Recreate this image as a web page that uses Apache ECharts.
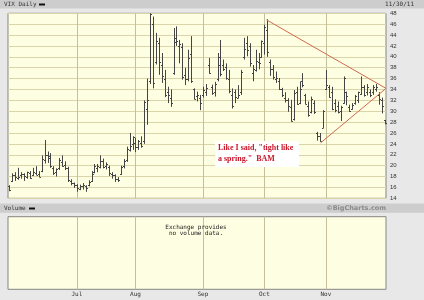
<!DOCTYPE html>
<html><head><meta charset="utf-8">
<script src="https://cdn.jsdelivr.net/npm/echarts@6.0.0/dist/echarts.min.js"></script>
<style>html,body{margin:0;padding:0;background:#e8e8e8}#c{width:424px;height:300px}</style>
</head><body><div id="c"></div>
<script>
// trading days (categories)
const dates = ['5/31',
'6/1','6/2','6/3','6/6','6/7','6/8','6/9','6/10','6/13','6/14','6/15','6/16','6/17','6/20','6/21','6/22','6/23','6/24','6/27','6/28','6/29','6/30',
'7/1','7/5','7/6','7/7','7/8','7/11','7/12','7/13','7/14','7/15','7/18','7/19','7/20','7/21','7/22','7/25','7/26','7/27','7/28','7/29',
'8/1','8/2','8/3','8/4','8/5','8/8','8/9','8/10','8/11','8/12','8/15','8/16','8/17','8/18','8/19','8/22','8/23','8/24','8/25','8/26','8/29','8/30','8/31',
'9/1','9/2','9/6','9/7','9/8','9/9','9/12','9/13','9/14','9/15','9/16','9/19','9/20','9/21','9/22','9/23','9/26','9/27','9/28','9/29','9/30',
'10/3','10/4','10/5','10/6','10/7','10/10','10/11','10/12','10/13','10/14','10/17','10/18','10/19','10/20','10/21','10/24','10/25','10/26','10/27','10/28','10/31',
'11/1','11/2','11/3','11/4','11/7','11/8','11/9','11/10','11/11','11/14','11/15','11/16','11/17','11/18','11/21','11/22','11/23','11/25','11/28','11/29','11/30'];

const open = [16.2,17.2,18.3,17.8,18.2,18.4,17.9,18.6,18.2,18.6,18.5,
19.0,21.0,22.0,21.8,19.5,18.8,19.6,20.6,20.2,19.5,17.2,16.8,
16.5,15.8,16.2,16.3,16.4,17.2,18.8,19.5,19.8,20.8,20.0,19.8,18.4,18.3,17.5,18.5,19.9,21.0,22.8,24.0,
24.2,23.5,24.2,24.5,30.5,35.5,46.0,39.0,42.5,38.5,36.0,33.5,32.5,37.0,43.5,42.0,41.8,36.6,36.0,40.5,34.0,32.8,32.5,
32.9,33.5,38.5,34.5,33.5,36.0,40.0,38.5,38.2,36.0,33.0,33.5,32.5,33.5,40.0,42.5,42.0,37.0,37.5,39.0,40.0,
42.5,45.0,39.0,37.8,36.0,35.5,34.0,32.5,32.0,30.8,28.5,33.5,31.5,35.5,33.0,31.0,29.8,31.5,26.0,25.5,27.0,
34.0,34.5,33.5,31.5,31.0,30.0,31.5,33.5,30.8,30.4,31.5,32.0,33.2,34.5,33.5,33.5,33.5,34.0,33.0,32.0,28.3];

const high = [16.4,18.6,18.8,19.6,18.8,18.6,18.9,19.0,19.6,19.9,19.0,
21.9,24.7,22.6,22.3,19.9,19.5,21.4,21.9,20.8,19.8,17.5,16.9,
16.6,16.5,16.8,16.4,17.3,19.0,20.3,20.3,21.9,21.3,20.6,20.0,18.8,18.4,17.9,20.0,21.2,23.5,26.0,25.4,
25.1,24.7,25.4,32.0,36.0,48.0,47.4,44.4,43.5,40.7,37.6,34.5,34.0,45.3,45.6,43.1,42.5,38.0,41.3,43.8,34.2,33.6,33.0,
34.5,35.0,39.8,34.9,35.4,40.7,43.1,39.5,38.8,37.6,34.2,34.0,34.8,37.6,43.5,43.8,42.5,38.5,41.3,40.7,43.0,
45.9,46.9,39.5,38.5,37.3,36.1,34.3,33.5,32.4,32.1,33.9,34.5,35.5,37.0,33.2,31.8,32.7,32.0,26.2,26.0,30.2,
37.6,34.8,34.5,32.2,31.8,31.0,36.4,33.6,31.2,31.5,33.0,33.6,36.4,34.8,35.0,34.0,34.8,35.0,33.5,32.5,28.4];

const low = [15.3,17.0,17.2,17.4,17.6,17.2,17.6,17.6,18.1,18.3,17.9,
18.8,20.4,20.5,19.6,18.3,18.0,19.2,19.8,19.2,17.0,16.4,15.9,
15.2,15.5,15.6,15.2,16.2,17.0,18.6,18.8,19.5,19.5,19.3,18.1,17.6,17.0,17.0,18.3,19.5,20.7,22.6,22.9,
22.5,22.9,23.3,24.0,27.5,35.0,34.2,38.6,36.7,35.2,32.6,31.5,30.8,36.7,42.0,38.8,35.8,34.8,35.5,35.2,32.2,31.8,30.2,
32.5,32.8,36.9,33.0,32.7,35.5,36.4,37.4,35.8,33.3,30.5,31.5,32.4,33.0,39.5,40.1,38.2,35.5,37.3,37.7,39.8,
40.4,40.0,36.5,35.8,35.2,33.9,32.6,31.6,29.9,28.1,28.3,31.2,31.3,34.4,31.3,29.0,29.6,29.5,24.6,24.4,26.9,
33.9,32.5,30.2,29.8,29.6,28.2,31.4,31.1,29.9,30.3,31.2,31.5,33.0,32.7,32.9,32.6,33.0,33.6,31.2,29.6,27.6];

const close = [15.5,18.3,17.9,18.0,18.5,18.1,18.8,17.8,18.9,18.3,17.9,
21.3,21.9,21.4,20.0,18.6,19.3,21.1,20.0,19.6,17.3,16.9,16.5,
15.9,16.3,16.4,15.9,17.0,18.4,19.9,19.9,20.8,19.8,20.3,18.6,18.3,17.5,17.4,19.8,20.8,23.0,23.7,25.2,
23.4,24.5,23.6,31.7,32.0,47.8,35.1,43.0,39.0,36.4,33.0,32.9,31.6,42.7,43.0,42.4,36.3,35.9,39.8,35.6,32.3,32.9,31.6,
33.9,34.2,37.0,33.4,35.0,38.5,36.9,37.8,36.2,33.8,31.0,32.7,32.9,37.3,41.4,41.3,38.8,37.8,39.3,38.8,42.9,
45.4,40.8,37.8,36.3,36.2,34.0,32.9,32.0,31.0,28.2,33.4,31.3,34.0,34.9,31.3,29.3,32.2,29.8,25.5,24.5,30.0,
34.8,32.7,30.5,30.2,29.9,30.8,36.2,32.8,30.0,31.1,32.8,33.5,34.5,32.9,34.5,33.0,34.5,34.5,32.3,31.0,27.8];

// x-axis tick labels
const monthStarts = ['7/1','8/1','9/1','10/3','11/1'];
const monthLabels = ['Jul','Aug','Sep','Oct','Nov'];
// y-axis tick range
const yMin = 14, yMax = 48, yStep = 2;
// hand-drawn triangle (x in trading-day index, y in price)
const trendX = [87.7, 128.5, 106.2];
const trendY = [46.8, 34.2, 24.2];

const ohlcData = dates.map((d, i) => [i, open[i], high[i], low[i], close[i]]);
const isMonthStart = (idx, val) => monthStarts.indexOf(val) >= 0;

const bg = '#fefee2', hGrid = '#d9d5a8', vGrid = '#c4c09c', barColor = '#454545';
const mono = 'DejaVu Sans Mono';

const chart = echarts.init(document.getElementById('c'), null, {renderer: 'canvas'});
chart.setOption({
  animation: false,
  backgroundColor: '#e8e8e8',
  grid: [
    {left: 8, top: 13.3, width: 378, height: 185, show: true, backgroundColor: bg, borderColor: '#858585', borderWidth: 1, containLabel: false},
    {left: 8, top: 216.7, width: 378, height: 72.6, show: true, backgroundColor: bg, borderColor: '#858585', borderWidth: 1, containLabel: false}
  ],
  xAxis: [
    {type: 'category', gridIndex: 0, data: dates, boundaryGap: true,
     axisLine: {show: false}, axisTick: {show: false}, axisLabel: {show: false},
     splitLine: {show: true, interval: isMonthStart, alignWithLabel: true, lineStyle: {color: vGrid, width: 1}}},
    {type: 'value', gridIndex: 0, min: -0.5, max: 128.5, show: false},
    {type: 'category', gridIndex: 1, data: dates, boundaryGap: true,
     axisLine: {show: false}, axisTick: {show: false},
     axisLabel: {show: true, interval: isMonthStart, margin: 2, fontSize: 6, fontFamily: mono, color: '#333',
       formatter: v => monthLabels[monthStarts.indexOf(v)] || ''},
     splitLine: {show: true, interval: isMonthStart, alignWithLabel: true, lineStyle: {color: vGrid, width: 1}}}
  ],
  yAxis: [
    {type: 'value', gridIndex: 0, position: 'right', min: yMin, max: yMax, interval: yStep,
     axisLine: {show: false}, axisTick: {show: false},
     axisLabel: {margin: 4, fontSize: 6, fontFamily: 'Liberation Sans', color: '#333'},
     splitLine: {show: true, lineStyle: {color: hGrid, width: 1}}},
    {type: 'value', gridIndex: 1, min: 0, max: 1, show: false}
  ],
  series: [
    {type: 'custom', xAxisIndex: 0, yAxisIndex: 0, data: ohlcData, encode: {x: 0, y: [1, 2, 3, 4]},
     z: 2, silent: true,
     renderItem: function (params, api) {
       const x = api.value(0);
       const o = api.coord([x, api.value(1)]);
       const h = api.coord([x, api.value(2)]);
       const l = api.coord([x, api.value(3)]);
       const c = api.coord([x, api.value(4)]);
       const cx = Math.round(h[0]) + 0.5;
       const st = {stroke: barColor, lineWidth: 1};
       return {type: 'group', children: [
         {type: 'line', shape: {x1: cx, y1: h[1], x2: cx, y2: l[1]}, style: st},
         {type: 'line', shape: {x1: cx - 1.5, y1: Math.round(o[1]) + 0.5, x2: cx, y2: Math.round(o[1]) + 0.5}, style: st},
         {type: 'line', shape: {x1: cx, y1: Math.round(c[1]) + 0.5, x2: cx + 1.5, y2: Math.round(c[1]) + 0.5}, style: st}
       ]};
     }},
    {type: 'line', xAxisIndex: 1, yAxisIndex: 0, data: trendX.map((x, i) => [x, trendY[i]]),
     symbol: 'none', silent: true, z: 3, lineStyle: {color: '#cf6a4f', width: 1}}
  ],
  graphic: [
    {type: 'rect', shape: {x: 0, y: 0, width: 424, height: 8.5}, style: {fill: '#cdcdcd'}, silent: true},
    {type: 'text', x: 4, y: 4.5, style: {text: 'VIX Daily', font: '6px "DejaVu Sans Mono"', fill: '#333', verticalAlign: 'middle'}},
    {type: 'rect', shape: {x: 39, y: 3.5, width: 6, height: 2}, style: {fill: '#111'}},
    {type: 'text', x: 414, y: 4.5, style: {text: '11/30/11', font: '6px "DejaVu Sans Mono"', fill: '#333', align: 'right', verticalAlign: 'middle'}},
    {type: 'rect', shape: {x: 0, y: 203.5, width: 424, height: 9.2}, style: {fill: '#cdcdcd'}, silent: true},
    {type: 'text', x: 4, y: 208.3, style: {text: 'Volume', font: '6px "DejaVu Sans Mono"', fill: '#333', verticalAlign: 'middle'}},
    {type: 'rect', shape: {x: 29, y: 207.5, width: 6, height: 2}, style: {fill: '#111'}},
    {type: 'text', x: 386, y: 208.3, style: {text: '©BigCharts.com', font: 'bold 6.5px "DejaVu Sans"', fill: '#8a8a8a', align: 'right', verticalAlign: 'middle'}},
    {type: 'text', x: 196, y: 230.5, z: 10, style: {text: 'Exchange provides\nno volume data.', font: '6px "DejaVu Sans Mono"', lineHeight: 6, fill: '#222', align: 'center', verticalAlign: 'middle'}},
    {type: 'rect', z: 10, shape: {x: 215, y: 141, width: 84, height: 26}, style: {fill: '#ffffff'}},
    {type: 'text', z: 11, x: 218, y: 148.3, style: {text: 'Like I said, "tight like', font: 'bold 8px "Liberation Serif"', fill: '#c8162a', verticalAlign: 'middle'}},
    {type: 'text', z: 11, x: 218, y: 159.3, style: {text: 'a spring."  BAM', font: 'bold 8px "Liberation Serif"', fill: '#c8162a', verticalAlign: 'middle'}}
  ]
});
</script></body></html>
